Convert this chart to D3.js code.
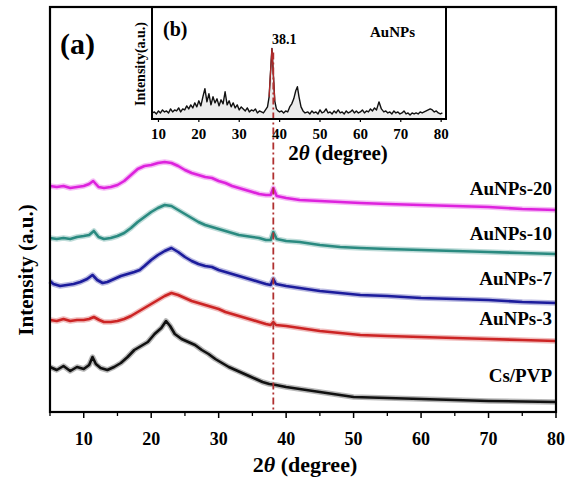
<!DOCTYPE html>
<html><head><meta charset="utf-8">
<script src="https://cdn.jsdelivr.net/npm/d3@7"></script>
<style>
body{margin:0;background:#fff;}
text{font-family:"Liberation Serif","Times New Roman",serif;font-weight:bold;fill:#000;}
</style></head>
<body>
<svg id="c" width="570" height="478"></svg>
<script>
// ---- data (2θ in degrees, intensity in a.u., stacked offsets included) ----
const seriesNames = ["Cs/PVP","AuNPs-3","AuNPs-7","AuNPs-10","AuNPs-20"];
const seriesColors = ["#111111","#cc2424","#1c1c9c","#2a8a80","#dd22dd"];
const csPvp = [[5,45],[6,42],[7,46],[8,41],[9,45],[10,43],[10.8,47],[11.3,55],[11.8,48],[12.5,44],[13.5,42],[14.5,45],[15.5,49],[16.5,55],[17.5,62],[18.5,66],[19.5,70],[20.5,78],[21.5,84],[22.2,91],[22.8,86],[23.5,78],[24.5,73],[25.5,70],[26.5,67],[27.5,62],[28.5,58],[29.5,53],[30.5,49],[31.5,45],[32.5,42],[33.5,39],[34.5,36],[35.5,33],[36.5,30],[37.5,28],[38.5,27],[40,25],[42,23],[45,20],[48,17],[50,15],[55,14],[60,13],[65,12],[70,11],[75,10.5],[80,10]];
const au3 = [[5,92],[6,91],[7,93],[8,91],[9,92],[10,92],[10.8,93],[11.5,95],[12.3,92],[13,90],[14,90],[15,91],[16,93],[17,96],[18,100],[19,104],[20,108],[21,112],[22,116],[23,119],[24,117],[25,114],[26,111],[27,109],[28,107],[29,105],[30,103],[31,100],[32,98],[33,96],[34,94],[35,92],[36,90],[37,88],[37.7,87],[38.1,90],[38.5,87],[40,86],[42,84],[45,81],[48,79],[51,77],[55,76],[60,75],[65,74],[70,73],[75,72],[80,71]];
const au7 = [[5,131],[5.5,128],[6.5,126],[7.5,127],[8.5,128],[9.5,130],[10.5,133],[11.3,137],[12,132],[12.8,129],[13.5,130],[14.5,133],[15.5,136],[16.5,138],[17.5,140],[18.3,142],[19,146],[20,152],[21,157],[22,161],[23,164],[24,160],[25,155],[26,151],[27,148],[28,146],[29,145],[30,142],[31,140],[32,138],[33,136],[34,134],[35,132],[36,130],[37,128],[37.7,127],[38.1,133],[38.5,128],[40,126],[42,124],[45,121],[48,119],[51,117],[55,116],[60,114],[65,113],[70,112],[75,110],[80,109]];
const au10 = [[5,174],[6,173],[7,174],[8,173],[9,175],[10,176],[10.8,177],[11.5,181],[12.2,175],[13,173],[14,174],[15,176],[16,179],[17,184],[18,190],[19,195],[20,200],[21,204],[22,207],[23,206],[24,202],[25,198],[26,194],[27,190],[28,187],[29,185],[30,183],[31,181],[32,179],[33,177],[34,176],[35,175],[36,174],[37,172],[37.7,172],[38.1,180],[38.6,173],[40,171],[42,170],[45,167],[48,165],[51,164],[55,163],[60,162],[65,161],[70,160],[75,159],[80,158]];
const au20 = [[5,226],[6,225],[7,226],[8,224],[9,225],[10,226],[10.8,228],[11.4,231],[12.2,225],[13,224],[14,225],[15,227],[16,231],[17,237],[18,243],[19,246],[20,247],[21,249],[22,250],[23,249],[24,246],[25,242],[26,239],[27,237],[28,235],[29,234],[30,231],[31,229],[32,226],[33,224],[34,222],[35,220],[36,218],[37,217],[37.7,217],[38.1,224],[38.6,216],[40,214],[42,212],[45,211],[48,210],[51,209],[55,208],[60,207],[65,206],[70,205],[75,203],[80,202]];
const seriesData = [csPvp, au3, au7, au10, au20];
const labelLevels = [30, 87, 127, 172, 217]; // label baseline intensity
const xTicks = [10,20,30,40,50,60,70,80];
const xMinorTicks = [5,15,25,35,45,55,65,75];
const peakPos = 38.1;

// inset (b): AuNPs pattern
const insetData = [[8.5,6],[9,7],[9.5,5],[10,8],[10.5,6],[11,9],[11.5,7],[12,8],[12.5,6],[13,10],[13.5,7],[14,9],[14.5,8],[15,11],[15.5,7],[16,10],[16.5,9],[17,13],[17.5,10],[18,14],[18.5,11],[19,16],[19.5,12],[20,18],[20.5,13],[21,22],[21.5,30],[22,17],[22.5,25],[23,14],[23.5,22],[24,16],[24.5,20],[25,13],[25.5,19],[26,15],[26.5,27],[27,14],[27.5,18],[28,12],[28.5,16],[29,11],[29.5,14],[30,9],[30.5,12],[31,10],[31.5,8],[32,11],[32.5,7],[33,9],[33.5,8],[34,10],[34.5,6],[35,8],[35.5,7],[36,6],[36.5,9],[37,12],[37.4,22],[37.8,50],[38.1,70],[38.4,48],[38.8,18],[39.2,10],[39.6,8],[40,7],[40.5,8],[41,6],[41.5,8],[42,7],[42.5,12],[43,15],[43.5,20],[44,28],[44.4,32],[44.8,22],[45.3,12],[45.8,8],[46.3,6],[47,7],[47.5,5],[48,8],[48.5,6],[49,7],[49.5,5],[50,9],[50.5,6],[51,7],[51.5,10],[52,6],[52.5,7],[53,5],[53.5,8],[54,6],[54.5,9],[55,6],[55.5,7],[56,5],[56.5,8],[57,6],[57.5,7],[58,9],[58.5,6],[59,8],[59.5,6],[60,7],[60.5,9],[61,6],[61.5,8],[62,7],[62.5,10],[63,8],[63.5,11],[64,9],[64.6,17],[65.2,10],[65.8,7],[66.3,8],[66.8,6],[67.3,7],[67.8,5],[68.3,8],[68.8,6],[69.3,7],[69.8,5],[70.3,6],[70.8,8],[71.3,5],[71.8,6],[72.3,4],[72.8,6],[73.3,5],[73.8,6],[74.3,5],[74.8,7],[75.3,6],[75.8,7],[76.3,8],[76.8,9],[77.3,10],[77.8,9],[78.3,7],[78.8,8],[79.3,6],[79.8,5],[80.3,6]];
const insetTicks = [10,20,30,40,50,60,70,80];

// ---- drawing ----
const svg = d3.select("#c");
const M = {l:50, r:556, t:7, b:412};
const x = d3.scaleLinear().domain([5,80]).range([M.l, M.r]);
const y = d3.scaleLinear().domain([0,405]).range([M.b, M.t]);

const line = d3.line().x(d=>x(d[0])).y(d=>y(d[1])).curve(d3.curveLinear);

// curves: fuzzy band + core
seriesData.forEach((s,i)=>{
  svg.append("path").attr("d", line(s)).attr("fill","none")
    .attr("stroke", seriesColors[i]).attr("stroke-width",5.5).attr("stroke-opacity",0.3)
    .attr("stroke-linejoin","round");
  svg.append("path").attr("d", line(s)).attr("fill","none")
    .attr("stroke", seriesColors[i]).attr("stroke-width",2.6)
    .attr("stroke-linejoin","round");
});

// series labels
seriesNames.forEach((n,i)=>{
  svg.append("text").attr("x", 552).attr("y", y(labelLevels[i]))
    .attr("text-anchor","end").attr("font-size",19).text(n);
});

// inset
const I = {l:152, r:446, t:7, b:119};
const xi = d3.scaleLinear().domain([8.4,81.2]).range([I.l, I.r]);
const yi = d3.scaleLinear().domain([0,111]).range([I.b, I.t]);
svg.append("rect").attr("x",I.l).attr("y",I.t).attr("width",I.r-I.l).attr("height",I.b-I.t).attr("fill","#fff");
const areaI = d3.area().x(d=>xi(d[0])).y0(yi(0)).y1(d=>yi(d[1]));
svg.append("path").attr("d", areaI(insetData)).attr("fill","#ececec");
const lineI = d3.line().x(d=>xi(d[0])).y(d=>yi(d[1]));
svg.append("path").attr("d", lineI(insetData)).attr("fill","none").attr("stroke","#111").attr("stroke-width",1.4).attr("stroke-linejoin","round");
svg.append("path").attr("d", lineI(insetData.filter(d=>d[0]>=37.4 && d[0]<=38.8))).attr("fill","none")
  .attr("stroke","#b52a2a").attr("stroke-width",1.2);

// dash-dot reference line at 38.1
svg.append("line").attr("x1",x(peakPos)).attr("x2",x(peakPos))
  .attr("y1",yi(66)).attr("y2",M.b)
  .attr("stroke","#b03030").attr("stroke-width",1.8).attr("stroke-dasharray","7,3,2,3");

svg.append("rect").attr("x",I.l).attr("y",I.t).attr("width",I.r-I.l).attr("height",I.b-I.t)
  .attr("fill","none").attr("stroke","#000").attr("stroke-width",2);
// inset ticks
const gi = svg.append("g");
insetTicks.forEach(t=>{
  gi.append("line").attr("x1",xi(t)).attr("x2",xi(t)).attr("y1",I.b).attr("y2",I.b+3).attr("stroke","#000").attr("stroke-width",1.2);
  gi.append("text").attr("x",xi(t)).attr("y",139).attr("text-anchor","middle").attr("font-size",15).text(t);
});
svg.append("text").attr("x",338).attr("y",160).attr("text-anchor","middle").attr("font-size",21)
  .html('2<tspan font-style="italic">θ</tspan> (degree)');
svg.append("text").attr("transform","translate(145,64) rotate(-90)").attr("text-anchor","middle").attr("font-size",14)
  .text("Intensity(a.u.)");
svg.append("text").attr("x",163).attr("y",36).attr("font-size",20).text("(b)");
svg.append("text").attr("x",370).attr("y",37).attr("font-size",15).text("AuNPs");
svg.append("text").attr("x",272).attr("y",44).attr("font-size",14).text("38.1");

// main frame
svg.append("rect").attr("x",M.l).attr("y",M.t).attr("width",M.r-M.l).attr("height",M.b-M.t)
  .attr("fill","none").attr("stroke","#000").attr("stroke-width",2.2);

// main x axis ticks
const gx = svg.append("g");
xTicks.forEach(t=>{
  gx.append("line").attr("x1",x(t)).attr("x2",x(t)).attr("y1",M.b).attr("y2",M.b+6).attr("stroke","#000").attr("stroke-width",1.5);
  gx.append("text").attr("x",x(t)).attr("y",445).attr("text-anchor","middle").attr("font-size",18).text(t);
});
xMinorTicks.forEach(t=>{
  gx.append("line").attr("x1",x(t)).attr("x2",x(t)).attr("y1",M.b).attr("y2",M.b+4).attr("stroke","#000").attr("stroke-width",1.3);
});

svg.append("text").attr("x",305).attr("y",472).attr("text-anchor","middle").attr("font-size",22)
  .html('2<tspan font-style="italic">θ</tspan> (degree)');
svg.append("text").attr("transform","translate(33,270) rotate(-90)").attr("text-anchor","middle").attr("font-size",21)
  .text("Intensity (a.u.)");
svg.append("text").attr("x",60).attr("y",54).attr("font-size",30).text("(a)");
</script>
</body></html>
